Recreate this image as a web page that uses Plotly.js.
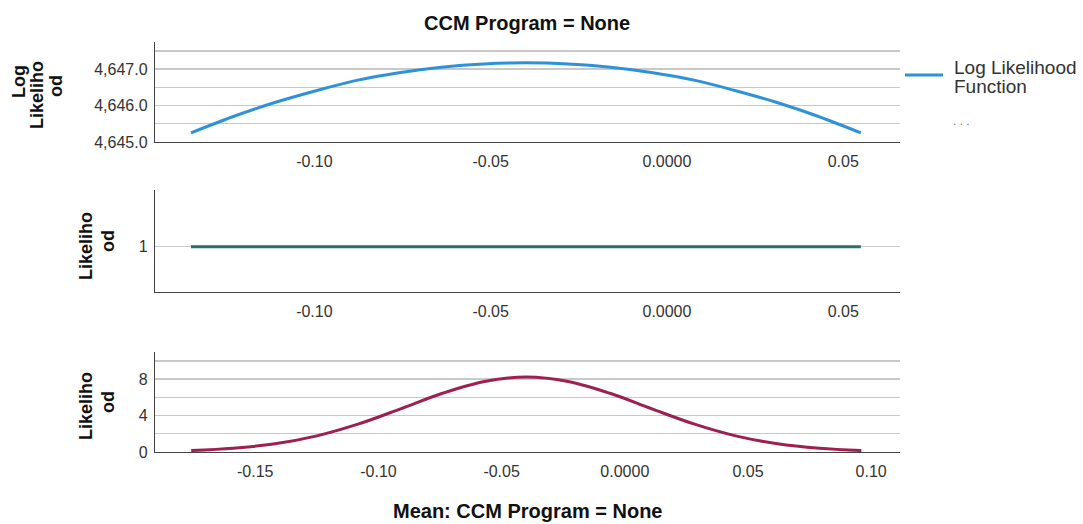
<!DOCTYPE html>
<html>
<head>
<meta charset="utf-8">
<script src="https://cdn.plot.ly/plotly-3.0.1.min.js"></script>
<style>
html,body{margin:0;padding:0;background:#fff;}
#chart{width:1083px;height:524px;}
</style>
</head>
<body>
<div id="chart"></div>
<script>
// ---- Data ----
const llX = [-0.135, -0.123, -0.111, -0.099, -0.088, -0.076, -0.064, -0.052, -0.040, -0.028, -0.016, -0.004, 0.008, 0.019, 0.031, 0.043, 0.055];
const llY = [4645.25, 4645.70, 4646.09, 4646.42, 4646.69, 4646.90, 4647.05, 4647.14, 4647.17, 4647.14, 4647.05, 4646.90, 4646.69, 4646.42, 4646.09, 4645.70, 4645.25];

const likX = [-0.135, -0.088, -0.040, 0.008, 0.055];
const likY = [1, 1, 1, 1, 1];

const pdfX = [-0.176, -0.159, -0.142, -0.125, -0.108, -0.091, -0.074, -0.057, -0.040, -0.023, -0.006, 0.011, 0.028, 0.045, 0.062, 0.079, 0.096];
const pdfY = [0.16, 0.41, 0.90, 1.77, 3.08, 4.73, 6.44, 7.74, 8.23, 7.74, 6.44, 4.73, 3.08, 1.77, 0.90, 0.41, 0.16];

const topXTickVals = [-0.10, -0.05, 0.0, 0.05];
const topXTickText = ['-0.10', '-0.05', '0.0000', '0.05'];
const botXTickVals = [-0.15, -0.10, -0.05, 0.0, 0.05, 0.10];
const botXTickText = ['-0.15', '-0.10', '-0.05', '0.0000', '0.05', '0.10'];
const llTickVals = [4645.0, 4645.5, 4646.0, 4646.5, 4647.0, 4647.5];
const llTickText = ['4,645.0', '', '4,646.0', '', '4,647.0', ''];
const likTickVals = [1];
const likTickText = ['1'];
const pdfTickVals = [0, 2, 4, 6, 8, 10];
const pdfTickText = ['0', '', '4', '', '8', ''];

const chartTitle = 'CCM Program = None';
const xTitle = 'Mean: CCM Program = None';
const legendLines = ['Log Likelihood', 'Function'];

// ---- Layout helpers ----
const W = 1083, H = 524;
const px = v => v / W;
const py = v => 1 - v / H;
const FONT = '"Liberation Sans", Arial, sans-serif';
const tickFont = {family: FONT, size: 16, color: '#333'};
const xDom = [px(155), px(900)];

function xAx(range, vals, text, anchor) {
  return {domain: xDom, anchor: anchor, range: range, tickvals: vals, ticktext: text,
    showgrid: false, zeroline: false, showline: true, linecolor: '#444', linewidth: 1.2,
    ticks: '', ticklabelstandoff: 5, tickfont: tickFont, fixedrange: true};
}
function yAx(dom, range, vals, text, anchor) {
  return {domain: dom, anchor: anchor, range: range, tickvals: vals, ticktext: text,
    showgrid: true, gridcolor: '#c9c9c9', gridwidth: 1.4, zeroline: false, showline: true,
    linecolor: '#444', linewidth: 1.2, ticks: '', ticklabelstandoff: 3, tickfont: tickFont, fixedrange: true};
}

const traces = [
  {x: llX, y: llY, xaxis: 'x', yaxis: 'y', mode: 'lines', line: {color: '#2f92d8', width: 3, shape: 'spline'}, showlegend: false},
  {x: likX, y: likY, xaxis: 'x2', yaxis: 'y2', mode: 'lines', line: {color: '#2a6f6f', width: 3}, showlegend: false},
  {x: pdfX, y: pdfY, xaxis: 'x3', yaxis: 'y3', mode: 'lines', line: {color: '#9e2050', width: 3, shape: 'spline'}, showlegend: false}
];

const boldLab = {family: FONT, size: 18, color: '#111'};
function rot(text, x, y) {
  return {text: '<b>' + text + '</b>', xref: 'paper', yref: 'paper', x: px(x), y: py(y),
    xanchor: 'center', yanchor: 'middle', textangle: -90, showarrow: false, font: boldLab};
}

const layout = {
  width: W, height: H,
  margin: {l: 0, r: 0, t: 0, b: 0},
  paper_bgcolor: '#fff', plot_bgcolor: '#fff',
  font: {family: FONT},
  xaxis: xAx([-0.1452, 0.0661], topXTickVals, topXTickText, 'y'),
  yaxis: yAx([py(142), py(41.7)], [4645, 4647.75], llTickVals, llTickText, 'x'),
  xaxis2: xAx([-0.1452, 0.0661], topXTickVals, topXTickText, 'y2'),
  yaxis2: yAx([py(292), py(190)], [0, 2.25], likTickVals, likTickText, 'x2'),
  xaxis3: xAx([-0.1907, 0.1117], botXTickVals, botXTickText, 'y3'),
  yaxis3: yAx([py(452), py(351.7)], [0, 11], pdfTickVals, pdfTickText, 'x3'),
  showlegend: false,
  shapes: [
    {type: 'line', xref: 'paper', yref: 'paper', x0: px(905), x1: px(943), y0: py(75), y1: py(75),
     line: {color: '#2f92d8', width: 3}}
  ],
  annotations: [
    {text: '<b>' + chartTitle + '</b>', xref: 'paper', yref: 'paper', x: px(527), y: py(23),
     xanchor: 'center', yanchor: 'middle', showarrow: false, font: {family: FONT, size: 20, color: '#111'}},
    {text: '<b>' + xTitle + '</b>', xref: 'paper', yref: 'paper', x: px(527), y: py(511),
     xanchor: 'center', yanchor: 'middle', showarrow: false, font: {family: FONT, size: 20, color: '#111'}},
    rot('Log', 19, 82), rot('Likeliho', 37, 95), rot('od', 56, 86),
    rot('Likeliho', 86, 246), rot('od', 108, 241),
    rot('Likeliho', 86, 406), rot('od', 108, 402),
    {text: legendLines[0], xref: 'paper', yref: 'paper', x: px(952), y: py(67), xanchor: 'left', yanchor: 'middle',
     showarrow: false, font: {family: FONT, size: 19, color: '#333'}},
    {text: legendLines[1], xref: 'paper', yref: 'paper', x: px(952), y: py(87), xanchor: 'left', yanchor: 'middle',
     showarrow: false, font: {family: FONT, size: 19, color: '#333'}},
    {text: '. . .', xref: 'paper', yref: 'paper', x: px(951), y: py(121), xanchor: 'left', yanchor: 'middle',
     showarrow: false, font: {family: FONT, size: 12, color: '#777'}}
  ]
};

Plotly.newPlot('chart', traces, layout, {staticPlot: true, displayModeBar: false});
</script>
</body>
</html>
